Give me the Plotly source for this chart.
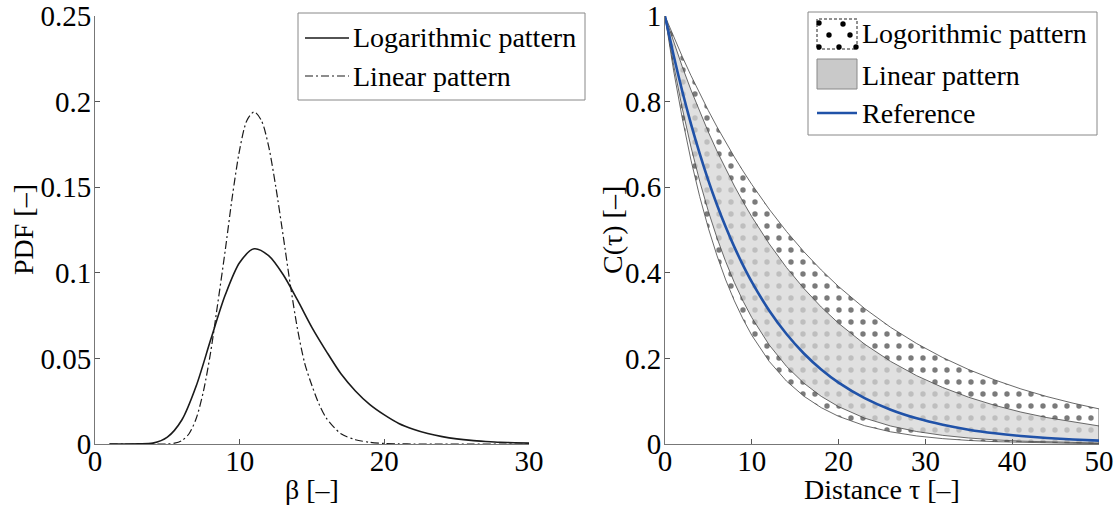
import plotly.graph_objects as go

# ---------------- Left panel data (PDF of beta) ----------------
beta = [1, 2, 3, 4, 5, 6, 7, 8, 9, 10, 11, 12, 13, 14, 15, 16, 17, 18, 19, 20,
        21, 22, 23, 24, 25, 26, 27, 28, 29, 30]
pdf_log = [0, 0, 0.0001, 0.0005, 0.004, 0.014, 0.034, 0.061, 0.087, 0.106, 0.114,
           0.110, 0.099, 0.084, 0.068, 0.054, 0.041, 0.031, 0.023, 0.017, 0.012,
           0.0086, 0.0061, 0.0043, 0.003, 0.0021, 0.0015, 0.001, 0.0007, 0.0005]

beta_lin = [1, 2, 3, 4, 5, 5.5, 6, 6.5, 7, 7.5, 8, 8.5, 9, 9.5, 10, 10.5, 11, 11.5,
            12, 12.5, 13, 13.5, 14, 14.5, 15, 15.5, 16, 17, 18, 19, 20, 21, 22, 24,
            26, 28, 30]
pdf_lin = [0, 0, 0, 0, 0, 0.0005, 0.002, 0.006, 0.015, 0.031, 0.054, 0.083, 0.113,
           0.145, 0.172, 0.189, 0.194, 0.189, 0.174, 0.150, 0.122, 0.093, 0.067,
           0.047, 0.034, 0.023, 0.015, 0.006, 0.0025, 0.001, 0.0003, 0.0001, 0, 0,
           0, 0, 0]

# ---------------- Right panel data (correlation functions) ----------------
tau = [0, 1, 2, 3, 4, 5, 6, 7, 8, 9, 10, 12, 14, 16, 18, 20, 23, 26, 29, 32, 35,
       38, 41, 44, 47, 50]
log_upper = [1, 0.9512, 0.9048, 0.8607, 0.8187, 0.7788, 0.7408, 0.7047, 0.6703,
             0.6376, 0.6065, 0.5488, 0.4966, 0.4493, 0.4066, 0.3679, 0.3166, 0.2725,
             0.2346, 0.2019, 0.1738, 0.1496, 0.1287, 0.1108, 0.0954, 0.0821]
lin_upper = [1, 0.9387, 0.8811, 0.8270, 0.7763, 0.7287, 0.6840, 0.6421, 0.6027,
             0.5657, 0.5311, 0.4679, 0.4123, 0.3633, 0.3201, 0.2820, 0.2332, 0.1929,
             0.1595, 0.1320, 0.1091, 0.0902, 0.0746, 0.0617, 0.0511, 0.0422]
reference = [1, 0.9075, 0.8235, 0.7473, 0.6782, 0.6155, 0.5585, 0.5068, 0.4599,
             0.4174, 0.3788, 0.3119, 0.2569, 0.2115, 0.1742, 0.1435, 0.1072, 0.0801,
             0.0599, 0.0448, 0.0334, 0.0250, 0.0187, 0.0140, 0.0104, 0.0078]
lin_lower = [1, 0.8852, 0.7835, 0.6936, 0.6140, 0.5435, 0.4811, 0.4259, 0.3770,
             0.3337, 0.2954, 0.2315, 0.1813, 0.1421, 0.1113, 0.0873, 0.0605, 0.0420,
             0.0291, 0.0202, 0.0140, 0.0097, 0.0067, 0.0047, 0.0032, 0.0022]
log_lower = [1, 0.8720, 0.7604, 0.6630, 0.5782, 0.5041, 0.4396, 0.3833, 0.3343,
             0.2914, 0.2541, 0.1932, 0.1469, 0.1117, 0.0849, 0.0646, 0.0428, 0.0284,
             0.0188, 0.0125, 0.0083, 0.0055, 0.0036, 0.0024, 0.0016, 0.0011]

left_legend = ["Logarithmic pattern", "Linear pattern"]
right_legend = ["Logorithmic pattern", "Linear pattern", "Reference"]

FONT = "Liberation Serif"
FS = 28
TFS = 29
BLUE = "#2052a8"
DASHDOT = "8px,3px,2px,3px"

# page pixel -> paper coordinate helpers
PL, PT, PW, PH = 95, 16, 1004, 428


def PX(x):
    return (x - PL) / PW


def PY(y):
    return (PT + PH - y) / PH


fig = go.Figure()

# Left panel
fig.add_trace(go.Scatter(
    x=beta, y=pdf_log, mode="lines", name=left_legend[0],
    line=dict(color="#1a1a1a", width=1.6, shape="spline", smoothing=0.8),
    xaxis="x", yaxis="y", showlegend=False))
fig.add_trace(go.Scatter(
    x=beta_lin, y=pdf_lin, mode="lines", name=left_legend[1],
    line=dict(color="#1a1a1a", width=1.2, dash=DASHDOT, shape="spline", smoothing=0.8),
    xaxis="x", yaxis="y", showlegend=False))

# Right panel: logarithmic band (dotted), linear band (grey), reference
fig.add_trace(go.Scatter(
    x=tau + tau[::-1], y=log_upper + log_lower[::-1], mode="lines",
    fill="toself", fillcolor="white",
    fillpattern=dict(shape=".", fgcolor="#7a7a7a", bgcolor="white", size=12,
                     solidity=0.16),
    line=dict(color="#444444", width=0.8),
    name=right_legend[0], xaxis="x2", yaxis="y2", showlegend=False))
fig.add_trace(go.Scatter(
    x=tau + tau[::-1], y=lin_upper + lin_lower[::-1], mode="lines",
    fill="toself", fillcolor="rgba(213,213,213,0.75)",
    line=dict(color="#444444", width=0.8),
    name=right_legend[1], xaxis="x2", yaxis="y2", showlegend=False))
fig.add_trace(go.Scatter(
    x=tau, y=reference, mode="lines", name=right_legend[2],
    line=dict(color=BLUE, width=2.6, shape="spline", smoothing=0.6),
    xaxis="x2", yaxis="y2", showlegend=False))

axis_common = dict(
    showline=True, linecolor="#777777", linewidth=1, mirror=False,
    ticks="inside", ticklen=5, tickcolor="#555555", tickwidth=1,
    showgrid=False, zeroline=False, automargin=False,
    ticklabeloverflow="allow",
    tickfont=dict(family=FONT, size=TFS, color="black"),
)

# ---- axis titles as annotations (precise placement) ----
annotations = [
    dict(text="β [–]", xref="x domain", yref="y domain", x=0.5, y=0,
         yshift=-45, xanchor="center", yanchor="middle", showarrow=False),
    dict(text="PDF [–]", xref="x domain", yref="y domain", x=0, y=0.5,
         xshift=-72, xanchor="center", yanchor="middle", textangle=-90,
         showarrow=False),
    dict(text="Distance τ [–]", xref="x2 domain", yref="y2 domain", x=0.5, y=0,
         yshift=-45, xanchor="center", yanchor="middle", showarrow=False),
    dict(text="C(τ) [–]", xref="x2 domain", yref="y2 domain", x=0, y=0.5,
         xshift=-53, xanchor="center", yanchor="middle", textangle=-90,
         showarrow=False),
]

shapes = []
# ---- left legend ----
shapes.append(dict(type="rect", xref="paper", yref="paper", x0=PX(298), x1=PX(585),
                   y0=PY(100), y1=PY(13), line=dict(color="#888888", width=1),
                   fillcolor="white", layer="above"))
shapes.append(dict(type="line", xref="paper", yref="paper", x0=PX(305), x1=PX(349),
                   y0=PY(38), y1=PY(38), line=dict(color="#1a1a1a", width=1.6),
                   layer="above"))
shapes.append(dict(type="line", xref="paper", yref="paper", x0=PX(305), x1=PX(349),
                   y0=PY(76), y1=PY(76),
                   line=dict(color="#1a1a1a", width=1.2, dash=DASHDOT), layer="above"))
for txt, yy in zip(left_legend, [38, 76]):
    annotations.append(dict(text=txt, xref="paper", yref="paper", x=PX(351), y=PY(yy),
                            xanchor="left", yanchor="middle", showarrow=False))

# ---- right legend ----
shapes.append(dict(type="rect", xref="paper", yref="paper", x0=PX(808), x1=PX(1097),
                   y0=PY(135), y1=PY(12), line=dict(color="#888888", width=1),
                   fillcolor="white", layer="above"))
shapes.append(dict(type="rect", xref="paper", yref="paper", x0=PX(817), x1=PX(857),
                   y0=PY(49), y1=PY(19), line=dict(color="#222222", width=1, dash="3px,2px"),
                   fillcolor="white", layer="above"))
for (dx, dy) in [(819, 23), (843, 24), (829, 35), (850, 35), (819, 47), (839, 47), (856, 47)]:
    shapes.append(dict(type="circle", xref="paper", yref="paper",
                       x0=PX(dx - 2.7), x1=PX(dx + 2.7), y0=PY(dy + 2.7), y1=PY(dy - 2.7),
                       line=dict(width=0), fillcolor="black", layer="above"))
shapes.append(dict(type="rect", xref="paper", yref="paper", x0=PX(817), x1=PX(857),
                   y0=PY(89), y1=PY(59), line=dict(color="#888888", width=1),
                   fillcolor="#c9c9c9", layer="above"))
shapes.append(dict(type="line", xref="paper", yref="paper", x0=PX(817), x1=PX(857),
                   y0=PY(113), y1=PY(113), line=dict(color=BLUE, width=2.6),
                   layer="above"))
for txt, yy in zip(right_legend, [34, 75, 113]):
    annotations.append(dict(text=txt, xref="paper", yref="paper", x=PX(860), y=PY(yy),
                            xanchor="left", yanchor="middle", showarrow=False))

fig.update_layout(
    width=1118, height=506,
    margin=dict(l=95, r=19, t=16, b=62),
    template="none",
    paper_bgcolor="white", plot_bgcolor="white",
    font=dict(family=FONT, size=FS, color="black"),
    showlegend=False,
    xaxis=dict(domain=[0, 0.4323], range=[0, 30], tickvals=[0, 10, 20, 30],
               anchor="y", ticklabelstandoff=-9, **axis_common),
    yaxis=dict(domain=[0, 1], range=[0, 0.25], dtick=0.05, anchor="x",
               ticklabelstandoff=-3, **axis_common),
    xaxis2=dict(domain=[0.5677, 1], range=[0, 50], dtick=10, anchor="y2",
                ticklabelstandoff=-9, **axis_common),
    yaxis2=dict(domain=[0, 1], range=[0, 1], dtick=0.2, anchor="x2",
                ticklabelstandoff=-3, **axis_common),
    annotations=annotations,
    shapes=shapes,
)

# remove the browser's default 8px page margin so the figure fills the window
fig.write_html("out.html",
               config={"displayModeBar": False, "staticPlot": True},
               post_script="document.body.style.margin='0';document.body.style.overflow='hidden';")
